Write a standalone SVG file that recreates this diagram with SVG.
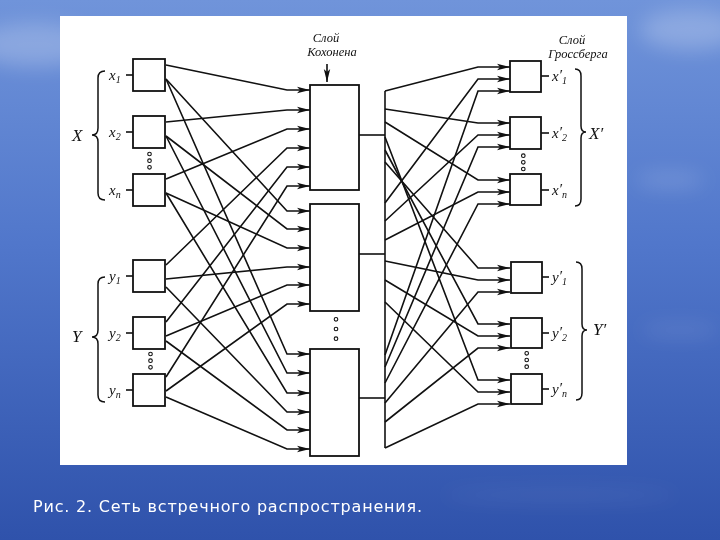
<svg xmlns="http://www.w3.org/2000/svg" width="720" height="540" viewBox="0 0 720 540">
<defs>
<linearGradient id="bg" x1="0" y1="0" x2="0" y2="1">
<stop offset="0" stop-color="#7094da"/>
<stop offset="0.45" stop-color="#5177cb"/>
<stop offset="1" stop-color="#2f52ab"/>
</linearGradient>
<filter id="blur" x="-50%" y="-50%" width="200%" height="200%"><feGaussianBlur stdDeviation="10"/></filter>
<marker id="ah" markerWidth="13" markerHeight="8" refX="13" refY="4" orient="auto" markerUnits="userSpaceOnUse">
<path d="M0,0.8 L13,4 L0,7.2 L3,4 z" fill="#111"/>
</marker>
<style>
.box{fill:#fff;stroke:#111;stroke-width:1.8}
.c{fill:none;stroke:#111;stroke-width:1.6;marker-end:url(#ah)}
.w{fill:none;stroke:#111;stroke-width:1.6}
.br{fill:none;stroke:#111;stroke-width:1.5}
.dot{fill:#fff;stroke:#111;stroke-width:1.1}
.lb{font-family:"Liberation Serif",serif;font-style:italic;font-size:15px;fill:#111}
.big{font-family:"Liberation Serif",serif;font-style:italic;font-size:17px;fill:#111}
.hd{font-family:"Liberation Serif",serif;font-style:italic;font-size:12.5px;fill:#111;text-anchor:middle}
.sub{font-size:10px}
.cap{font-family:"DejaVu Sans",Verdana,sans-serif;font-size:16px;fill:#fff}
</style>
</defs>

<rect x="0" y="0" width="720" height="540" fill="url(#bg)"/>
<g filter="url(#blur)" fill="#fff">
<ellipse cx="35" cy="45" rx="60" ry="22" opacity="0.22"/>
<ellipse cx="690" cy="30" rx="50" ry="20" opacity="0.22"/>
<ellipse cx="670" cy="180" rx="35" ry="8" opacity="0.15"/>
<ellipse cx="680" cy="330" rx="40" ry="6" opacity="0.12"/>
<ellipse cx="560" cy="495" rx="120" ry="6" opacity="0.08"/>
</g>
<rect x="60" y="16" width="567" height="449" fill="#fff"/>

<g id="connectors">
<polyline class="c" points="166,65 287,90 310,90"/>
<polyline class="c" points="166,79 287,211 310,211"/>
<polyline class="c" points="166,79 287,354 310,354"/>
<polyline class="c" points="166,122 287,110 310,110"/>
<polyline class="c" points="166,136 287,229 310,229"/>
<polyline class="c" points="166,136 287,373 310,373"/>
<polyline class="c" points="166,179 287,129 310,129"/>
<polyline class="c" points="166,193 287,248 310,248"/>
<polyline class="c" points="166,193 287,393 310,393"/>
<polyline class="c" points="166,265 287,148 310,148"/>
<polyline class="c" points="166,279 287,267 310,267"/>
<polyline class="c" points="166,287 287,412 310,412"/>
<polyline class="c" points="166,322 287,167 310,167"/>
<polyline class="c" points="166,336 287,285 310,285"/>
<polyline class="c" points="166,341 287,430 310,430"/>
<polyline class="c" points="166,377 287,186 310,186"/>
<polyline class="c" points="166,391 287,304 310,304"/>
<polyline class="c" points="166,397 287,449 310,449"/>
<line class="w" x1="359" y1="135" x2="385" y2="135"/>
<line class="w" x1="359" y1="254" x2="385" y2="254"/>
<line class="w" x1="359" y1="398" x2="385" y2="398"/>
<line class="w" x1="385" y1="91" x2="385" y2="448"/>
<polyline class="c" points="385,91 478,67 510,67"/>
<polyline class="c" points="385,109 478,123 510,123"/>
<polyline class="c" points="385,122 478,180 510,180"/>
<polyline class="c" points="385,162 478,268 510,268"/>
<polyline class="c" points="385,150 478,324 510,324"/>
<polyline class="c" points="385,137 478,380 510,380"/>
<polyline class="c" points="385,203 478,79 510,79"/>
<polyline class="c" points="385,221 478,135 510,135"/>
<polyline class="c" points="385,240 478,192 510,192"/>
<polyline class="c" points="385,261 478,280 510,280"/>
<polyline class="c" points="385,280 478,336 510,336"/>
<polyline class="c" points="385,302 478,392 510,392"/>
<polyline class="c" points="385,355 478,91 510,91"/>
<polyline class="c" points="385,367 478,147 510,147"/>
<polyline class="c" points="385,383 478,204 510,204"/>
<polyline class="c" points="385,403 478,292 510,292"/>
<polyline class="c" points="385,422 478,348 510,348"/>
<polyline class="c" points="385,448 478,404 510,404"/>
<line class="w" x1="126" y1="75" x2="133" y2="75"/>
<line class="w" x1="126" y1="132" x2="133" y2="132"/>
<line class="w" x1="126" y1="190" x2="133" y2="190"/>
<line class="w" x1="126" y1="276" x2="133" y2="276"/>
<line class="w" x1="126" y1="333" x2="133" y2="333"/>
<line class="w" x1="126" y1="390" x2="133" y2="390"/>
<line class="w" x1="541" y1="76" x2="549" y2="76"/>
<line class="w" x1="541" y1="133" x2="549" y2="133"/>
<line class="w" x1="541" y1="190" x2="549" y2="190"/>
<line class="w" x1="542" y1="277" x2="549" y2="277"/>
<line class="w" x1="542" y1="333" x2="549" y2="333"/>
<line class="w" x1="542" y1="389" x2="549" y2="389"/>
<line class="c" x1="327" y1="64" x2="327" y2="82"/>
</g>

<g id="in-x1"><rect class="box" x="133" y="59" width="32" height="32"/><text class="lb" x="109" y="80">x<tspan class="sub" dy="3">1</tspan></text></g>
<g id="in-x2"><rect class="box" x="133" y="116" width="32" height="32"/><text class="lb" x="109" y="137">x<tspan class="sub" dy="3">2</tspan></text></g>
<g id="in-xn"><rect class="box" x="133" y="174" width="32" height="32"/><text class="lb" x="109" y="195">x<tspan class="sub" dy="3">n</tspan></text></g>
<g id="in-y1"><rect class="box" x="133" y="260" width="32" height="32"/><text class="lb" x="109" y="281">y<tspan class="sub" dy="3">1</tspan></text></g>
<g id="in-y2"><rect class="box" x="133" y="317" width="32" height="32"/><text class="lb" x="109" y="338">y<tspan class="sub" dy="3">2</tspan></text></g>
<g id="in-yn"><rect class="box" x="133" y="374" width="32" height="32"/><text class="lb" x="109" y="395">y<tspan class="sub" dy="3">n</tspan></text></g>

<g id="input-groups">
<path class="br" d="M105,71 Q98,71 98,78 L98,128 Q98,135 92,135 Q98,135 98,142 L98,193 Q98,200 105,200"/>
<text class="big" x="72" y="141">X</text>
<path class="br" d="M105,277 Q98,277 98,284 L98,330 Q98,337 92,337 Q98,337 98,344 L98,395 Q98,402 105,402"/>
<text class="big" x="72" y="342">Y</text>
<circle class="dot" cx="149.5" cy="154" r="1.8"/><circle class="dot" cx="149.5" cy="160.7" r="1.8"/><circle class="dot" cx="149.5" cy="167.3" r="1.8"/>
<circle class="dot" cx="150.5" cy="354" r="1.8"/><circle class="dot" cx="150.5" cy="360.7" r="1.8"/><circle class="dot" cx="150.5" cy="367.3" r="1.8"/>
</g>

<g id="kohonen-1"><rect class="box" x="310" y="85" width="49" height="105"/></g>
<g id="kohonen-2"><rect class="box" x="310" y="204" width="49" height="107"/></g>
<g id="kohonen-3"><rect class="box" x="310" y="349" width="49" height="107"/></g>
<g id="kohonen-label">
<text class="hd" x="326" y="42">Слой</text>
<text class="hd" x="332" y="56">Кохонена</text>
<circle class="dot" cx="336" cy="319.3" r="1.8"/><circle class="dot" cx="336" cy="329" r="1.8"/><circle class="dot" cx="336" cy="338.7" r="1.8"/>
</g>

<g id="out-x1"><rect class="box" x="510" y="61" width="31" height="31"/><text class="lb" x="552" y="81">x<tspan dy="-1">′</tspan><tspan class="sub" dy="4">1</tspan></text></g>
<g id="out-x2"><rect class="box" x="510" y="117" width="31" height="32"/><text class="lb" x="552" y="138">x<tspan dy="-1">′</tspan><tspan class="sub" dy="4">2</tspan></text></g>
<g id="out-xn"><rect class="box" x="510" y="174" width="31" height="31"/><text class="lb" x="552" y="195">x<tspan dy="-1">′</tspan><tspan class="sub" dy="4">n</tspan></text></g>
<g id="out-y1"><rect class="box" x="511" y="262" width="31" height="31"/><text class="lb" x="552" y="282">y<tspan dy="-1">′</tspan><tspan class="sub" dy="4">1</tspan></text></g>
<g id="out-y2"><rect class="box" x="511" y="318" width="31" height="30"/><text class="lb" x="552" y="338">y<tspan dy="-1">′</tspan><tspan class="sub" dy="4">2</tspan></text></g>
<g id="out-yn"><rect class="box" x="511" y="374" width="31" height="30"/><text class="lb" x="552" y="394">y<tspan dy="-1">′</tspan><tspan class="sub" dy="4">n</tspan></text></g>

<g id="output-groups">
<text class="hd" x="572" y="44">Слой</text>
<text class="hd" x="578" y="58">Гроссберга</text>
<path class="br" d="M575,69 Q581,69 581,76 L581,126 Q581,132 586,132 Q581,132 581,138 L581,199 Q581,206 575,206"/>
<text class="big" x="589" y="139">X′</text>
<path class="br" d="M576,262 Q582,262 582,269 L582,324 Q582,330 587,330 Q582,330 582,336 L582,393 Q582,400 576,400"/>
<text class="big" x="593" y="335">Y′</text>
<circle class="dot" cx="523.3" cy="155.7" r="1.8"/><circle class="dot" cx="523.3" cy="162.3" r="1.8"/><circle class="dot" cx="523.3" cy="169" r="1.8"/>
<circle class="dot" cx="526.7" cy="353.3" r="1.8"/><circle class="dot" cx="526.7" cy="360" r="1.8"/><circle class="dot" cx="526.7" cy="366.7" r="1.8"/>
</g>

<text class="cap" x="33" y="512" textLength="389">Рис. 2. Сеть встречного распространения.</text>
</svg>
